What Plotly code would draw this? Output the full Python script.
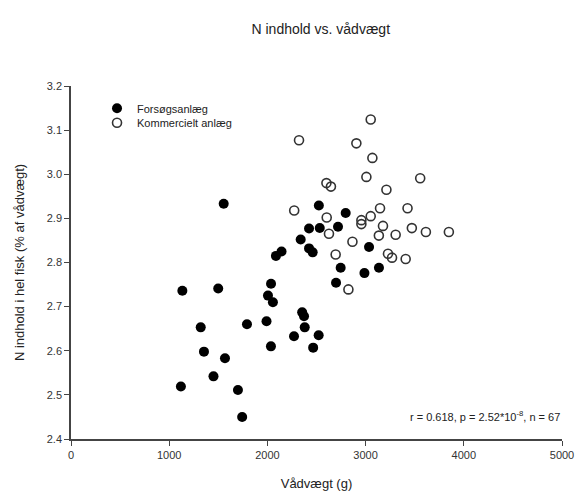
import plotly.graph_objects as go

# Forsøgsanlæg (filled)
fors_x = [1555, 1134, 1499, 1321, 1354, 1568, 1451, 1119, 1700, 1743,
          1792, 1991, 2037, 2006, 2056, 2036, 2087, 2144, 2354, 2373,
          2380, 2271, 2466, 2522, 2424, 2461, 2339, 2424, 2533, 2719,
          2524, 2797, 3035, 2746, 2988, 3136, 2699]
fors_y = [2.933, 2.736, 2.741, 2.653, 2.598, 2.583, 2.542, 2.519, 2.511, 2.450,
          2.660, 2.667, 2.752, 2.725, 2.710, 2.610, 2.815, 2.825, 2.687, 2.678,
          2.653, 2.633, 2.607, 2.635, 2.832, 2.823, 2.852, 2.877, 2.878, 2.881,
          2.929, 2.912, 2.835, 2.788, 2.776, 2.788, 2.754]

# Kommercielt anlæg (open)
komm_x = [3052, 2322, 2906, 3069, 2601, 2647, 3008, 3556, 3212, 2273,
          3147, 3427, 2604, 2957, 3052, 2957, 3177, 3471, 2627, 3135,
          3306, 3614, 3848, 2866, 2695, 3228, 3269, 3408, 2825]
komm_y = [3.124, 3.077, 3.070, 3.037, 2.980, 2.972, 2.994, 2.991, 2.965, 2.918,
          2.923, 2.923, 2.902, 2.896, 2.905, 2.887, 2.883, 2.878, 2.865, 2.861,
          2.863, 2.869, 2.869, 2.847, 2.818, 2.820, 2.811, 2.808, 2.739]

x_ticks = [0, 1000, 2000, 3000, 4000, 5000]
y_ticks = [2.4, 2.5, 2.6, 2.7, 2.8, 2.9, 3.0, 3.1, 3.2]
y_tick_labels = ["2.4", "2.5", "2.6", "2.7", "2.8", "2.9", "3.0", "3.1", "3.2"]

FONT = "Liberation Sans, Arial, sans-serif"

fig = go.Figure()
fig.add_trace(go.Scatter(
    x=fors_x, y=fors_y, mode="markers", name="Forsøgsanlæg", legend="legend",
    marker=dict(symbol="circle", size=10, color="black",
                line=dict(color="black", width=0)),
))
fig.add_trace(go.Scatter(
    x=komm_x, y=komm_y, mode="markers", name="Kommercielt anlæg", legend="legend2",
    marker=dict(symbol="circle-open", size=9, color="#333333",
                line=dict(color="#333333", width=1.6)),
))

axis_common = dict(
    showline=True, linecolor="#444444", linewidth=1.5,
    ticks="outside", ticklen=5, tickwidth=1, tickcolor="#444444",
    showgrid=False, zeroline=False, mirror=False,
    tickfont=dict(family=FONT, size=11, color="#333333"),
)

legend_common = dict(xanchor="left", yanchor="top", bgcolor="rgba(0,0,0,0)",
                     font=dict(family=FONT, size=11, color="#222222"))

fig.update_layout(
    width=579, height=497,
    margin=dict(l=71, r=17, t=86, b=58, autoexpand=False),
    paper_bgcolor="white", plot_bgcolor="white",
    title=dict(text="N indhold vs. vådvægt", x=0.554, xanchor="center",
               y=1 - 29 / 497, yanchor="middle",
               font=dict(family=FONT, size=14, color="#222222")),
    showlegend=True,
    legend=dict(x=0.053, y=0.978, **legend_common),
    legend2=dict(x=0.053, y=0.937, **legend_common),
    xaxis=dict(range=[0, 5000], tickvals=x_ticks, automargin=False,
               title=dict(text="Vådvægt (g)", standoff=19,
                          font=dict(family=FONT, size=13, color="#222222")),
               **axis_common),
    yaxis=dict(range=[2.4, 3.2], tickvals=y_ticks, ticktext=y_tick_labels,
               automargin=False,
               title=dict(text="N indhold i hel fisk (% af vådvægt)", standoff=19,
                          font=dict(family=FONT, size=13, color="#222222")),
               **axis_common),
    annotations=[dict(
        xref="paper", yref="paper", x=1.0, y=0.066,
        xanchor="right", yanchor="middle", showarrow=False,
        text="r = 0.618, p = 2.52*10<sup>-8</sup>, n = 67",
        font=dict(family=FONT, size=11, color="#222222"),
    )],
)

# remove the browser's default 8px page margin so the figure fills the window
fig.write_html("out.html",
               config={"displayModeBar": False},
               post_script="document.body.style.margin='0';"
                           "document.body.style.overflow='hidden';")
